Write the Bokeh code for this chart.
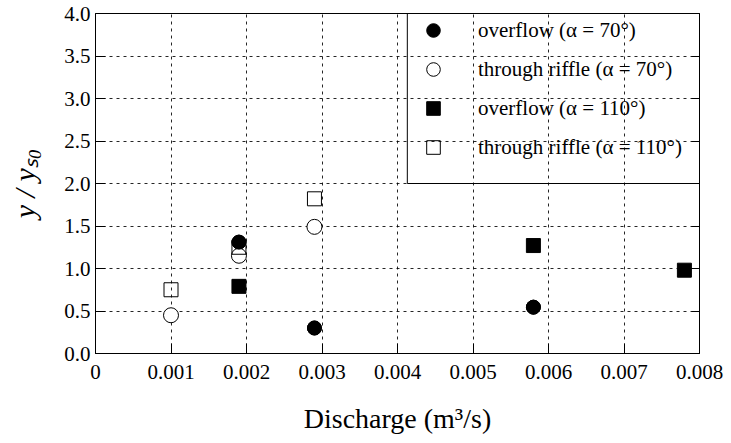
import math
from bokeh.plotting import figure
from bokeh.models import (FixedTicker, NumeralTickFormatter, Legend, LegendItem,
                          LinearAxis, BoxAnnotation, Range1d, CustomJSTickFormatter)
from bokeh.embed import file_html
from bokeh.resources import INLINE

# ---- data ----
of70_x = [0.0019, 0.0029, 0.0058]
of70_y = [1.31, 0.30, 0.545]
tr70_x = [0.0010, 0.0019, 0.0029]
tr70_y = [0.45, 1.15, 1.49]
of110_x = [0.0019, 0.0058, 0.0078]
of110_y = [0.79, 1.27, 0.98]
tr110_x = [0.0010, 0.0019, 0.0029]
tr110_y = [0.75, 1.25, 1.82]

x_ticks = [0, 0.001, 0.002, 0.003, 0.004, 0.005, 0.006, 0.007, 0.008]
y_ticks = [0.0, 0.5, 1.0, 1.5, 2.0, 2.5, 3.0, 3.5, 4.0]
labels = ["overflow (α = 70°)", "through riffle (α = 70°)",
          "overflow (α = 110°)", "through riffle (α = 110°)"]

FONT = "Liberation Serif"

p = figure(width=731, height=443, output_backend="svg", toolbar_location=None,
           x_range=Range1d(0, 0.008), y_range=Range1d(0, 4.0),
           min_border_left=95, min_border_right=32, min_border_top=13,
           min_border_bottom=90)
p.outline_line_color = "black"
p.outline_line_width = 1

for ax in (p.xaxis[0], p.yaxis[0]):
    ax.major_tick_in = 10
    ax.major_tick_out = 0
    ax.minor_tick_in = 0
    ax.minor_tick_out = 0
    ax.axis_line_color = "black"
    ax.major_tick_line_color = "black"
    ax.major_label_text_font = FONT
    ax.major_label_text_color = "black"

p.xaxis.ticker = FixedTicker(ticks=x_ticks)
p.xaxis.formatter = NumeralTickFormatter(format="0.000")
p.xaxis.major_label_overrides = {0: "0"}
p.xaxis.major_label_text_font_size = "21px"
p.xaxis.major_label_standoff = 11
p.xaxis.axis_label = "Discharge (m³/s)"
p.xaxis.axis_label_text_font = FONT
p.xaxis.axis_label_text_font_style = "normal"
p.xaxis.axis_label_text_font_size = "28px"
p.xaxis.axis_label_text_color = "black"
p.xaxis.axis_label_standoff = 21

p.yaxis.ticker = FixedTicker(ticks=y_ticks)
p.yaxis.formatter = NumeralTickFormatter(format="0.0")
p.yaxis.major_label_text_font_size = "21px"
p.yaxis.major_label_standoff = 5
p.yaxis.axis_label = "y / yₛ₀"
p.yaxis.axis_label_text_font = FONT
p.yaxis.axis_label_text_font_style = "italic"
p.yaxis.axis_label_text_font_size = "30px"
p.yaxis.axis_label_text_color = "black"
p.yaxis.axis_label_standoff = 20

right = LinearAxis(ticker=FixedTicker(ticks=y_ticks), major_tick_in=8, major_tick_out=0,
                   minor_tick_in=0, minor_tick_out=0,
                   formatter=CustomJSTickFormatter(code="return ''"),
                   axis_line_color="black")
p.add_layout(right, "right")

p.xgrid.ticker = FixedTicker(ticks=x_ticks)
p.ygrid.ticker = FixedTicker(ticks=y_ticks)
p.grid.grid_line_color = "black"
p.grid.grid_line_dash = "3 4"
p.grid.grid_line_width = 1
p.grid.grid_line_alpha = 0.85

r1 = p.scatter(of70_x, of70_y, marker="circle", size=14, fill_color="black", line_color="black")
r2 = p.scatter(tr70_x, tr70_y, marker="circle", size=15, fill_color="white", line_color="black")
r3 = p.scatter(of110_x, of110_y, marker="square", size=14, fill_color="black", line_color="black")
r4 = p.scatter(tr110_x, tr110_y, marker="square", size=14, fill_color=None, line_color="black")
# draw the filled circles on top where points overlap
p.scatter(of70_x, of70_y, marker="circle", size=14, fill_color="black", line_color="black")

legend = Legend(items=[LegendItem(label=labels[0], renderers=[r1]),
                       LegendItem(label=labels[1], renderers=[r2]),
                       LegendItem(label=labels[2], renderers=[r3]),
                       LegendItem(label=labels[3], renderers=[r4])],
                location=(312, 189), padding=0, spacing=5, glyph_width=52, glyph_height=34,
                label_height=20, label_standoff=19, margin=0,
                label_text_font=FONT, label_text_font_size="21px", label_text_color="black",
                border_line_alpha=0, background_fill_alpha=0)
p.add_layout(legend, "center")

p.add_layout(BoxAnnotation(left=0.00413, right=0.008, bottom=2.0, top=4.0,
                           fill_alpha=0, line_color="black", line_alpha=1, line_width=1))

open("out.html", "w").write(file_html(p, INLINE))
